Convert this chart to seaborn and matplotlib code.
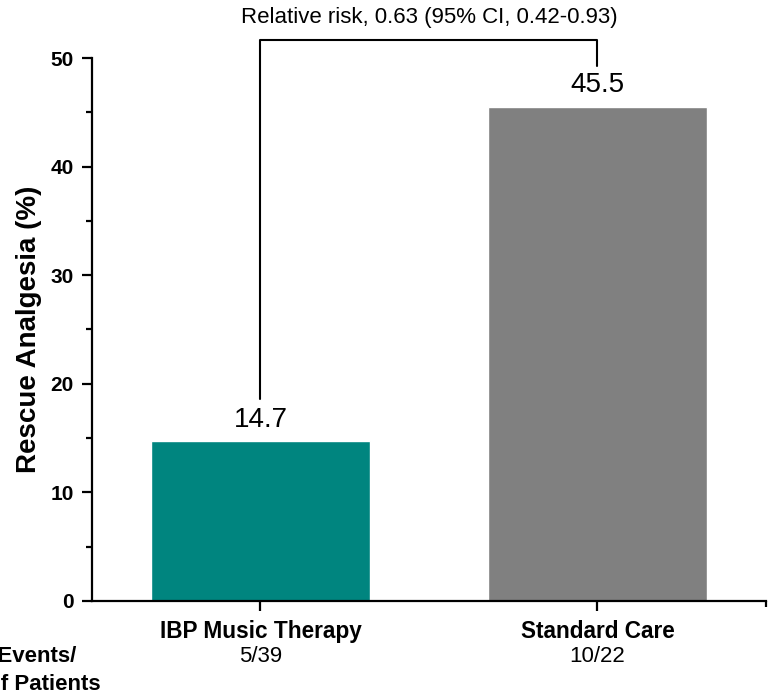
import matplotlib
matplotlib.use("Agg")
import matplotlib.pyplot as plt
import matplotlib.transforms as mtransforms
from matplotlib.ticker import MultipleLocator
import seaborn as sns
import pandas as pd

groups = ["IBP Music Therapy", "Standard Care"]
rescue_pct = [14.7, 45.5]
events = ["5/39", "10/22"]
bar_colors = ["#00857f", "#808080"]
y_ticks = [0, 10, 20, 30, 40, 50]
comparison_text = "Relative risk, 0.63 (95% CI, 0.42-0.93)"

sns.set_theme(style="white")
plt.rcParams["font.family"] = ["Liberation Sans", "DejaVu Sans"]
plt.rcParams["text.color"] = "black"
plt.rcParams["axes.labelcolor"] = "black"
plt.rcParams["xtick.color"] = "black"
plt.rcParams["ytick.color"] = "black"

df = pd.DataFrame({"group": groups, "pct": rescue_pct})

fig = plt.figure(figsize=(7.69, 6.98), dpi=100)
ax = fig.add_axes([0.1196, 0.139, 0.8764, 0.7779])

sns.barplot(data=df, x="group", y="pct", hue="group", palette=bar_colors,
            width=0.65, saturation=1, legend=False, ax=ax)

ax.set_xlim(-0.5, 1.5)
ax.set_ylim(0, 50)
ax.set_yticks(y_ticks, labels=[str(t) for t in y_ticks],
              fontsize=15, fontweight="bold")
ax.yaxis.set_minor_locator(MultipleLocator(5))
ax.set_xticks(range(len(groups)), labels=groups, fontsize=16.3,
              fontweight="bold")

for side in ("top", "right"):
    ax.spines[side].set_visible(False)
for side in ("left", "bottom"):
    ax.spines[side].set_linewidth(1.6)
    ax.spines[side].set_color("black")

ax.tick_params(axis="both", which="major", direction="out", length=7, width=1.6,
               color="black", bottom=True, left=True)
ax.tick_params(axis="y", which="minor", direction="out", length=4, width=1.6,
               color="black", left=True)
ax.set_xticks([1.5], minor=True)
ax.tick_params(axis="x", which="minor", direction="out", length=4, width=1.6,
               color="black", bottom=True)
ax.tick_params(axis="y", which="major", pad=6)
ax.tick_params(axis="x", which="major", pad=7)

ax.set_xlabel("")
ax.set_ylabel("Rescue Analgesia (%)", fontsize=20, fontweight="bold")
ax.yaxis.set_label_coords(-0.074, 0.5)

# value labels above the bars
for i, v in enumerate(rescue_pct):
    ax.text(i, v + 0.8, f"{v}", ha="center", va="bottom", fontsize=20)

# events per patients row beneath the category names
trans = mtransforms.blended_transform_factory(ax.transData, fig.transFigure)
for i, e in enumerate(events):
    ax.text(i, 1 - 656 / 698, e, ha="center", va="center", fontsize=16,
            transform=trans)
fig.text(76 / 769, 1 - 656 / 698, "No. of Events/", ha="right", va="center",
         fontsize=16, fontweight="bold")
fig.text(101 / 769, 1 - 684 / 698, "No. of Patients", ha="right", va="center",
         fontsize=16, fontweight="bold")

# comparison bracket between the two groups
y_left = 18.6
y_top = 51.7
y_right = 49.3
ax.plot([0, 0, 1, 1], [y_left, y_top, y_top, y_right], color="black",
        lw=1.5, clip_on=False)
ax.text(0.5, 53.7, comparison_text, ha="center", va="center", fontsize=16,
        clip_on=False)

fig.savefig("out.png", dpi=100)
